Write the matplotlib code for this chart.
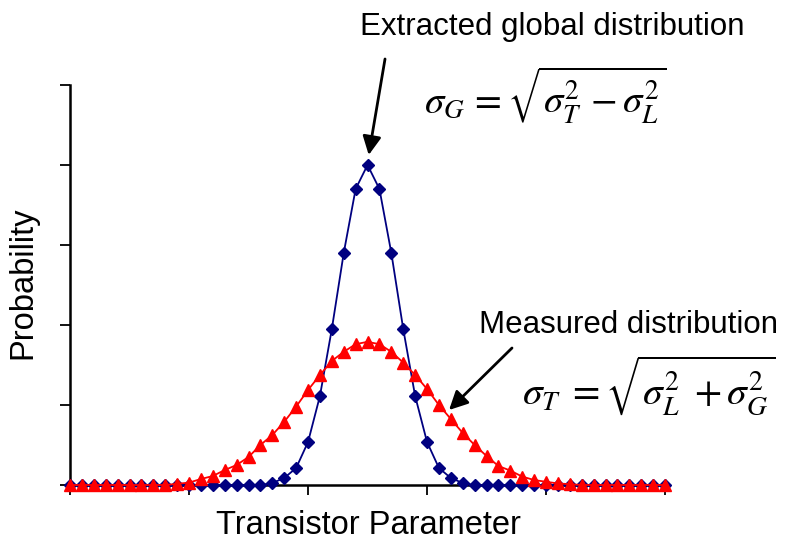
import numpy as np
import matplotlib
matplotlib.use("Agg")
import matplotlib.pyplot as plt

plt.rcParams['font.family'] = ['Liberation Sans', 'DejaVu Sans']
plt.rcParams['mathtext.fontset'] = 'stix'

# parameter bins 0..50
param = np.arange(51)

# extracted global distribution (narrow)
global_dist = [0.0] * 17 + [0.005, 0.0175, 0.0425, 0.1075, 0.2225, 0.39, 0.58, 0.74, 0.80,
                            0.74, 0.58, 0.39, 0.2225, 0.1075, 0.0425, 0.0175, 0.005] + [0.0] * 17

# measured distribution (wide)
measured_dist = [0.0] * 9 + [0.003, 0.006, 0.015, 0.0225, 0.0375, 0.05, 0.07, 0.1, 0.125, 0.158,
                             0.196, 0.2375, 0.275, 0.31, 0.333, 0.352, 0.358,
                             0.352, 0.333, 0.306, 0.275, 0.24, 0.2, 0.165, 0.13, 0.1, 0.0725,
                             0.0475, 0.036, 0.021, 0.0125, 0.008, 0.004, 0.002] + [0.0] * 8

fig = plt.figure(figsize=(7.86, 5.43), dpi=100)
ax = fig.add_axes([0.0891, 0.1068, 0.7570, 0.7367])

ax.plot(param, global_dist, '-', color='#000080', lw=1.3, marker='D', ms=6.3,
        mec='#000080', mfc='#000080', clip_on=False, zorder=3)
ax.plot(param, measured_dist, '-', color='#ff0000', lw=1.3, marker='^', ms=9,
        mec='#ff0000', mfc='#ff0000', clip_on=False, zorder=4)

ax.set_xlim(0, 50)
ax.set_ylim(0, 1)
ax.set_xticks(np.arange(0, 51, 10))
ax.set_yticks(np.arange(0, 1.01, 0.2))
ax.set_xticklabels([])
ax.set_yticklabels([])
ax.tick_params(direction='out', length=7, width=1.3, color='black')
for side in ('top', 'right'):
    ax.spines[side].set_visible(False)
for side in ('left', 'bottom'):
    ax.spines[side].set_linewidth(1.8)

# axis titles
fig.text(0.4682, 0.0331, 'Transistor Parameter', fontsize=23.5, ha='center', va='center')
fig.text(0.0293, 0.4788, 'Probability', fontsize=23.5, ha='center', va='center', rotation=90)

# labels and arrows
arrow = dict(arrowstyle='-|>', color='black', lw=2, mutation_scale=28, shrinkA=0, shrinkB=0)
fig.text(0.7023, 0.9503, 'Extracted global distribution', fontsize=22.5, ha='center', va='center')
ax.annotate('', xy=(25.1, 0.825), xytext=(26.47, 1.065), arrowprops=arrow,
            annotation_clip=False)
fig.text(0.7990, 0.4015, 'Measured distribution', fontsize=22.5, ha='center', va='center')
ax.annotate('', xy=(31.85, 0.1875), xytext=(37.14, 0.3425), arrowprops=arrow,
            annotation_clip=False)

fig.text(0.6934, 0.8250, r'$\sigma_G\,=\sqrt{\sigma_T^2\,-\sigma_L^2}$', fontsize=28,
         ha='center', va='center')
fig.text(0.8257, 0.2910, r'$\sigma_T\;=\sqrt{\sigma_L^2\;+\sigma_G^2}$', fontsize=28.5,
         ha='center', va='center')

fig.savefig('out.png', dpi=100)
